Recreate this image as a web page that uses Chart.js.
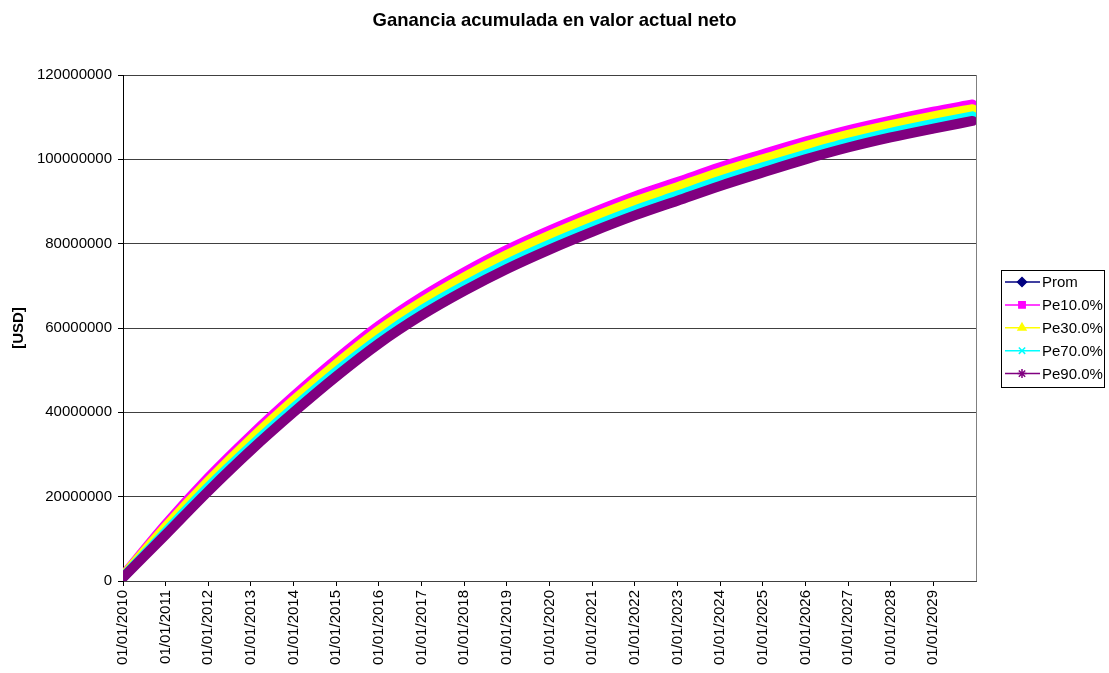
<!DOCTYPE html>
<html>
<head>
<meta charset="utf-8">
<script src="https://cdn.jsdelivr.net/npm/chart.js@4.4.1/dist/chart.umd.min.js"></script>
<style>
  html, body { margin: 0; padding: 0; background: #ffffff; }
  canvas { display: block; }
</style>
</head>
<body>
<canvas id="c" width="1109" height="673"></canvas>
<script>
// ---- chart data -------------------------------------------------------
const chartTitle = 'Ganancia acumulada en valor actual neto';
const yAxisTitle = '[USD]';

// month index of each sampled value (0 = January 2010, 239 = December 2029)
const months = [0, 12, 24, 36, 48, 60, 72, 84, 96, 108, 120, 132, 144, 156, 168, 180, 192, 204, 216, 228, 239];

// x-axis tick positions (months) and their labels
const yearTicks = [0, 12, 24, 36, 48, 60, 72, 84, 96, 108, 120, 132, 144, 156, 168, 180, 192, 204, 216, 228];
const yearLabels = ['01/01/2010', '01/01/2011', '01/01/2012', '01/01/2013', '01/01/2014',
                    '01/01/2015', '01/01/2016', '01/01/2017', '01/01/2018', '01/01/2019',
                    '01/01/2020', '01/01/2021', '01/01/2022', '01/01/2023', '01/01/2024',
                    '01/01/2025', '01/01/2026', '01/01/2027', '01/01/2028', '01/01/2029'];

// y-axis ticks (USD)
const yTicks = [0, 20000000, 40000000, 60000000, 80000000, 100000000, 120000000];

// cumulative net present value, USD
const prom  = [1000000, 12200000, 22900000, 32800000, 41900000, 50500000, 58400000, 65200000, 71000000, 76300000,
               80900000, 85100000, 89000000, 92400000, 95900000, 99100000, 102100000, 104900000, 107200000, 109300000, 111100000];
const pe10  = [1200000, 13400000, 24500000, 34500000, 43800000, 52500000, 60500000, 67300000, 73200000, 78500000,
               83100000, 87300000, 91200000, 94600000, 98100000, 101200000, 104200000, 106900000, 109200000, 111300000, 113000000];
const pe30  = [1100000, 12800000, 23600000, 33600000, 42800000, 51400000, 59400000, 66100000, 72000000, 77300000,
               81900000, 86100000, 90000000, 93400000, 96900000, 100000000, 103100000, 105800000, 108100000, 110200000, 111900000];
const pe70  = [900000, 11600000, 22200000, 31900000, 41000000, 49600000, 57400000, 64200000, 70000000, 75200000,
               79800000, 84000000, 87900000, 91400000, 94900000, 98100000, 101100000, 103900000, 106300000, 108400000, 110200000];
const pe90  = [800000, 11000000, 21300000, 31000000, 40000000, 48500000, 56300000, 63000000, 68800000, 74000000,
               78600000, 82800000, 86700000, 90200000, 93700000, 96900000, 100000000, 102800000, 105200000, 107300000, 109100000];

const seriesNames  = ['Prom', 'Pe10.0%', 'Pe30.0%', 'Pe70.0%', 'Pe90.0%'];
const seriesValues = [prom, pe10, pe30, pe70, pe90];
const seriesColors = ['#000080', '#FF00FF', '#FFFF00', '#00FFFF', '#800080'];
const seriesMarkers = ['rectRot', 'rect', 'triangle', 'crossRot', 'star'];

// ---- styling ----------------------------------------------------------
const FONT = "'Liberation Sans', Arial, Helvetica, sans-serif";
Chart.defaults.font.family = FONT;
Chart.defaults.color = '#000';

const datasets = seriesNames.map((name, s) => ({
  label: name,
  data: months.map((m, i) => ({ x: m, y: seriesValues[s][i] })),
  borderColor: seriesColors[s],
  backgroundColor: seriesColors[s],
  pointStyle: seriesMarkers[s],
  borderWidth: 10,
  borderCapStyle: 'round',
  borderJoinStyle: 'round',
  pointRadius: 0,
  pointHoverRadius: 0,
  cubicInterpolationMode: 'monotone',
  fill: false,
  // last series on top, average at the bottom
  order: seriesNames.length - s
}));

// title, plot-area frame and boxed legend
const decorations = {
  id: 'decorations',
  afterDraw(chart) {
    const ctx = chart.ctx;
    const area = chart.chartArea;
    ctx.save();

    // title
    ctx.fillStyle = '#000';
    ctx.font = 'bold 18.5px ' + FONT;
    ctx.textAlign = 'center';
    ctx.textBaseline = 'middle';
    ctx.fillText(chartTitle, chart.width / 2, 21);

    // right edge of plot area
    ctx.strokeStyle = '#808080';
    ctx.lineWidth = 1;
    ctx.beginPath();
    ctx.moveTo(Math.round(area.right) + 0.5, Math.round(area.top));
    ctx.lineTo(Math.round(area.right) + 0.5, Math.round(area.bottom));
    ctx.stroke();

    // legend
    const lx = 1001.5, ly = 270.5, lw = 103, lh = 117, rowH = 22.9;
    ctx.strokeStyle = '#000';
    ctx.lineWidth = 1;
    ctx.strokeRect(lx, ly, lw, lh);
    ctx.font = '15px ' + FONT;
    ctx.textAlign = 'left';
    ctx.textBaseline = 'middle';
    seriesNames.forEach((name, s) => {
      const y = 282 + s * rowH;
      ctx.strokeStyle = seriesColors[s];
      ctx.fillStyle = seriesColors[s];
      ctx.lineWidth = 1.5;
      ctx.beginPath();
      ctx.moveTo(1005, y);
      ctx.lineTo(1040, y);
      ctx.stroke();
      Chart.helpers.drawPoint(ctx, {
        pointStyle: seriesMarkers[s],
        radius: 4.5,
        rotation: 0,
        borderWidth: 1.5
      }, 1022, y);
      ctx.fillStyle = '#000';
      ctx.fillText(name, 1042, y + 1);
    });
    ctx.restore();
  }
};

new Chart(document.getElementById('c'), {
  type: 'line',
  data: { datasets },
  options: {
    responsive: false,
    animation: false,
    devicePixelRatio: 1,
    layout: { padding: { top: 75, right: 133, left: 0, bottom: 0 } },
    plugins: {
      legend: { display: false },
      title: { display: false },
      tooltip: { enabled: false }
    },
    scales: {
      x: {
        type: 'linear',
        min: 0,
        max: 240,
        afterBuildTicks: scale => { scale.ticks = yearTicks.map(v => ({ value: v })); },
        afterFit: scale => { scale.height = 92; },
        grid: { drawOnChartArea: false, drawTicks: true, tickLength: 5, color: '#000' },
        border: { display: true, color: '#404040', width: 1 },
        ticks: {
          autoSkip: false,
          minRotation: 90,
          maxRotation: 90,
          padding: 4,
          color: '#000',
          font: { size: 15 },
          callback: (value, index) => yearLabels[index]
        }
      },
      y: {
        min: 0,
        max: 120000000,
        afterBuildTicks: scale => { scale.ticks = yTicks.map(v => ({ value: v })); },
        afterFit: scale => { scale.width = 123; },
        grid: { color: '#404040', lineWidth: 1, tickLength: 5, tickColor: '#000', drawTicks: true },
        border: { display: true, color: '#000', width: 1 },
        ticks: {
          padding: 6,
          color: '#000',
          font: { size: 15 },
          callback: value => String(value)
        },
        title: {
          display: true,
          text: yAxisTitle,
          color: '#000',
          font: { size: 15, weight: 'bold' },
          padding: { top: 10, bottom: 0 }
        }
      }
    }
  },
  plugins: [decorations]
});
</script>
</body>
</html>
